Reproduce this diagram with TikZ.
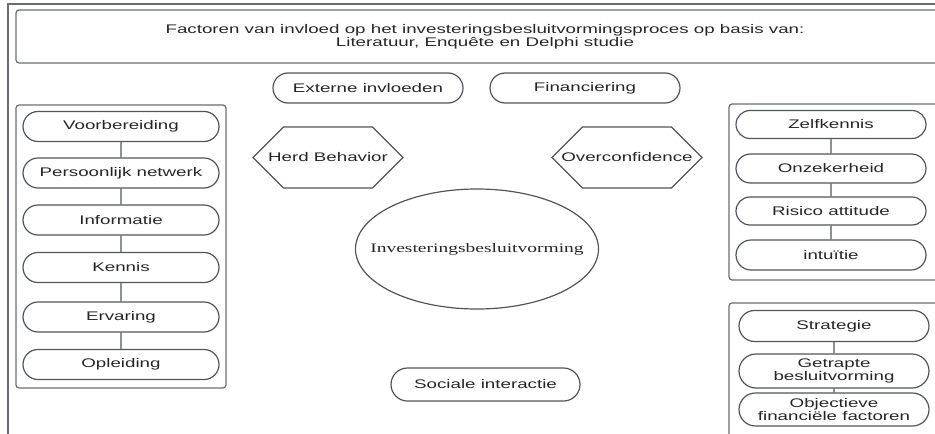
\documentclass[tikz,border=0pt]{standalone}
\usepackage{fontspec}
\setmainfont{Liberation Sans}[FakeStretch=1.5]
\newfontfamily\serifwide{Liberation Serif}[FakeStretch=1.5]
\usetikzlibrary{shapes.misc, shapes.symbols, shapes.geometric}
\definecolor{linegray}{RGB}{80,85,92}
\definecolor{framegray}{RGB}{105,110,116}
\definecolor{textgray}{RGB}{38,38,38}

\begin{document}
\begin{tikzpicture}[x=1pt, y=-1pt,
    factor/.style={draw=linegray, line width=1.2pt, rounded rectangle, minimum width=198pt,
      minimum height=30pt, inner sep=1pt, text=textgray, align=center,
      font=\fontsize{12.5}{12.5}\selectfont},
    bias/.style={draw=linegray, line width=1.2pt, signal, signal to=west and east,
      signal pointer angle=90, minimum width=150pt, minimum height=61pt, inner sep=0pt,
      label={[text=textgray, font=\fontsize{12.5}{12.5}\selectfont]center:#1}},
    groupbox/.style={draw=framegray, line width=1.2pt, rounded corners=3pt},
    link/.style={draw=linegray, line width=1.2pt}]
    \useasboundingbox (0,0) rectangle (935,434);
    \clip (0,0) rectangle (935,434);
    \draw[framegray, line width=1.8pt] (8,4) rectangle (960,460);
    \draw[groupbox] (16,10) rectangle (960,63);
    \node[text=textgray, align=center, font=\fontsize{12.5}{13.5}\selectfont] (titel) at (485,37)
        {Factoren van invloed op het investeringsbesluitvormingsproces op basis van:\\
         Literatuur, Enquête en Delphi studie};

    % midden
    \node[factor, minimum width=192pt] (extern) at (368,88) {Externe invloeden};
    \node[factor, minimum width=192pt] (financiering) at (585,88) {Financiering};
    \node[bias=Herd Behavior] (herd) at (328,157.5) {};
    \node[bias=Overconfidence] (over) at (627,157.5) {};
    \node[draw=linegray, line width=1.2pt, ellipse, minimum width=243pt, minimum height=120pt,
        inner sep=0pt, label={[text=textgray, font=\serifwide\fontsize{13}{13}\selectfont]center:Investeringsbesluitvorming}]
        (besluit) at (477,249) {};
    \node[factor, minimum width=191pt, minimum height=33pt] (sociaal) at (485.5,384.5) {Sociale interactie};

    % links
    \draw[groupbox] (16,105) rectangle (226,388);
    \node[factor] (voorb) at (121,126.5) {Voorbereiding};
    \node[factor] (netwerk) at (121,173) {Persoonlijk netwerk};
    \node[factor] (info) at (121,220) {Informatie};
    \node[factor] (kennis) at (121,267.5) {Kennis};
    \node[factor] (ervaring) at (121,317) {Ervaring};
    \node[factor] (opleiding) at (121,364.5) {Opleiding};
    \draw[link] (voorb) -- (netwerk);
    \draw[link] (netwerk) -- (info);
    \draw[link] (info) -- (kennis);
    \draw[link] (kennis) -- (ervaring);
    \draw[link] (ervaring) -- (opleiding);

    % rechts boven
    \draw[groupbox] (729,104) rectangle (960,280);
    \node[factor, minimum width=192pt, minimum height=28pt] (zelf) at (831,124.5) {Zelfkennis};
    \node[factor, minimum width=192pt, minimum height=29pt] (onzeker) at (831,168.5) {Onzekerheid};
    \node[factor, minimum width=192pt, minimum height=28pt] (risico) at (831,211) {Risico attitude};
    \node[factor, minimum width=192pt, minimum height=30pt] (intuitie) at (831,255) {intuïtie};
    \draw[link] (zelf) -- (onzeker);
    \draw[link] (onzeker) -- (risico);
    \draw[link] (risico) -- (intuitie);

    % rechts onder
    \draw[groupbox] (729,303) rectangle (960,470);
    \node[factor, minimum width=192pt, minimum height=31pt] (strategie) at (834,326) {Strategie};
    \node[factor, minimum width=192pt, minimum height=34pt] (getrapt) at (834,371)
        {Getrapte\\besluitvorming};
    \node[factor, minimum width=192pt, minimum height=33pt] (objectief) at (834,409.5)
        {Objectieve\\financiële factoren};
    \draw[link] (strategie) -- (getrapt);
    \draw[link] (getrapt) -- (objectief);
\end{tikzpicture}
\end{document}
